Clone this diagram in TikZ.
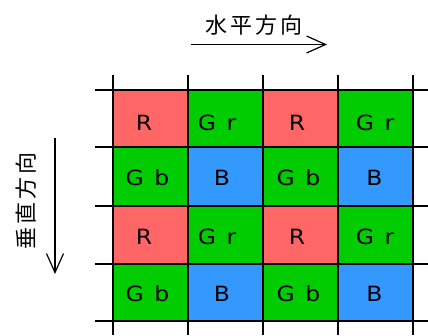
\documentclass[tikz,border=0pt]{standalone}
\usepackage{fontspec}
\setmainfont{DejaVu Sans}[FakeStretch=1.12]
\newfontfamily\jpfont{Noto Sans CJK JP}
\usetikzlibrary{arrows.meta}
\definecolor{cR}{HTML}{FF6666}
\definecolor{cG}{HTML}{00CC00}
\definecolor{cB}{HTML}{3399FF}
\tikzset{
  cell/.style={minimum width=75pt,minimum height=58pt,inner sep=0pt,outer sep=0pt,font=\fontsize{21}{21}\selectfont},
  rcell/.style={cell,fill=cR},
  gcell/.style={cell,fill=cG},
  bcell/.style={cell,fill=cB},
  gridline/.style={line width=1.6pt,black},
  dirarrow/.style={line width=1.2pt,-{Straight Barb[length=19pt,width=17pt,line width=1.2pt]}},
  jplabel/.style={font=\jpfont\fontsize{22}{22}\selectfont,inner sep=0pt}
}
\newcommand{\jgap}{\hspace{3pt}}
\begin{document}
\begin{tikzpicture}[x=1pt,y=-1pt]
\useasboundingbox (0,0) rectangle (428,335);
% cells
\node[rcell,minimum height=57pt] (c11) at (150.5,118.5) {};
\node[gcell,minimum height=57pt] (c12) at (225.5,118.5) {};
\node[rcell,minimum height=57pt] (c13) at (300.5,118.5) {};
\node[gcell,minimum height=57pt] (c14) at (375.5,118.5) {};
\node[gcell] (c21) at (150.5,177) {};
\node[bcell] (c22) at (225.5,177) {};
\node[gcell] (c23) at (300.5,177) {};
\node[bcell] (c24) at (375.5,177) {};
\node[rcell] (c31) at (150.5,235) {};
\node[gcell] (c32) at (225.5,235) {};
\node[rcell] (c33) at (300.5,235) {};
\node[gcell] (c34) at (375.5,235) {};
\node[gcell,minimum height=57pt] (c41) at (150.5,292.5) {};
\node[bcell,minimum height=57pt] (c42) at (225.5,292.5) {};
\node[gcell,minimum height=57pt] (c43) at (300.5,292.5) {};
\node[bcell,minimum height=57pt] (c44) at (375.5,292.5) {};
% labels
\foreach \r/\y in {1/122.5,3/237}{
  \node[cell] (tR\r a) at (144,\y) {R};
  \node[cell] (tG\r a) at (217,\y) {G\hspace{0.5em}r};
  \node[cell] (tR\r b) at (297,\y) {R};
  \node[cell] (tG\r b) at (375,\y) {G\hspace{0.5em}r};
}
\foreach \r/\y in {2/178,4/294}{
  \node[cell] (tG\r a) at (147.5,\y) {G\hspace{0.5em}b};
  \node[cell] (tB\r a) at (222,\y) {B};
  \node[cell] (tG\r b) at (298.5,\y) {G\hspace{0.5em}b};
  \node[cell] (tB\r b) at (374.5,\y) {B};
}
% grid lines
\foreach \x in {113,188,263,338,413}{
  \coordinate (vt\x) at (\x,75);
  \coordinate (vb\x) at (\x,335);
  \draw[gridline] (vt\x) -- (vb\x);
}
\foreach \y in {90,147,206,264,321}{
  \coordinate (hl\y) at (95,\y);
  \coordinate (hr\y) at (428,\y);
  \draw[gridline] (hl\y) -- (hr\y);
}
% direction labels
\node[jplabel] (hlab) at (254,25) {水\jgap 平\jgap 方\jgap 向};
\coordinate (ha) at (191,44.5);
\coordinate (hb) at (327,44.5);
\draw[dirarrow] (ha) -- (hb);
\node[jplabel,rotate=90] (vlab) at (26.5,201) {垂\jgap 直\jgap 方\jgap 向};
\coordinate (va) at (55,138);
\coordinate (vb) at (55,274);
\draw[dirarrow] (va) -- (vb);
\end{tikzpicture}
\end{document}
